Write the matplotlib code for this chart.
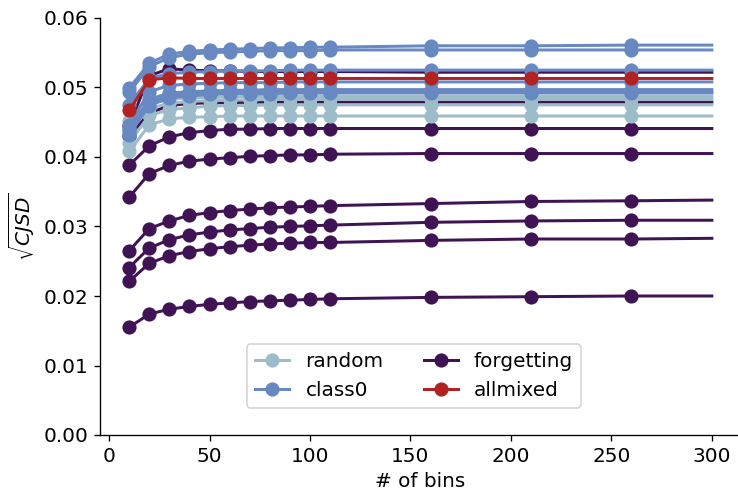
import matplotlib
matplotlib.use("Agg")
import matplotlib.pyplot as plt
from matplotlib.lines import Line2D

plt.rcParams["font.size"] = 12

bins = [10, 20, 30, 40, 50, 60, 70, 80, 90, 100, 110, 160, 210, 260, 300]

forgetting = [
    [0.0445, 0.0517, 0.0527, 0.0525, 0.0524, 0.0524, 0.0523, 0.0523, 0.0523, 0.0523, 0.0523, 0.0522, 0.0522, 0.0522, 0.0522],
    [0.0430, 0.0463, 0.0474, 0.0477, 0.0478, 0.0478, 0.0479, 0.0479, 0.0479, 0.0479, 0.0479, 0.0479, 0.0479, 0.0479, 0.0479],
    [0.0388, 0.0416, 0.0429, 0.0435, 0.0438, 0.0440, 0.0440, 0.0441, 0.0441, 0.0441, 0.0441, 0.0441, 0.0441, 0.0441, 0.0441],
    [0.0342, 0.0376, 0.0388, 0.0394, 0.0397, 0.0399, 0.0401, 0.0402, 0.0403, 0.0403, 0.0404, 0.0405, 0.0405, 0.0405, 0.0405],
    [0.0265, 0.0297, 0.0308, 0.0316, 0.0320, 0.0323, 0.0325, 0.0327, 0.0328, 0.0329, 0.0330, 0.0333, 0.0336, 0.0337, 0.0338],
    [0.0241, 0.0269, 0.0281, 0.0288, 0.0292, 0.0295, 0.0297, 0.0299, 0.0300, 0.0301, 0.0302, 0.0306, 0.0308, 0.0309, 0.0309],
    [0.0221, 0.0247, 0.0258, 0.0264, 0.0268, 0.0271, 0.0273, 0.0275, 0.0276, 0.0277, 0.0277, 0.0280, 0.0282, 0.0282, 0.0283],
    [0.0155, 0.0174, 0.0181, 0.0185, 0.0188, 0.0190, 0.0192, 0.0193, 0.0194, 0.0195, 0.0196, 0.0198, 0.0199, 0.0200, 0.0200],
]

random_ = [
    [0.0452, 0.0478, 0.0483, 0.0485, 0.0486, 0.0486, 0.0487, 0.0487, 0.0487, 0.0487, 0.0487, 0.0487, 0.0487, 0.0487, 0.0487],
    [0.0440, 0.0470, 0.0477, 0.0480, 0.0481, 0.0482, 0.0482, 0.0483, 0.0483, 0.0483, 0.0483, 0.0483, 0.0483, 0.0483, 0.0483],
    [0.0420, 0.0460, 0.0468, 0.0471, 0.0473, 0.0474, 0.0474, 0.0475, 0.0475, 0.0475, 0.0475, 0.0475, 0.0475, 0.0475, 0.0475],
    [0.0408, 0.0446, 0.0455, 0.0457, 0.0458, 0.0459, 0.0459, 0.0459, 0.0459, 0.0459, 0.0459, 0.0459, 0.0459, 0.0459, 0.0459],
]

class0 = [
    [0.0499, 0.0535, 0.0548, 0.0552, 0.0554, 0.0555, 0.0556, 0.0557, 0.0557, 0.0558, 0.0558, 0.0560, 0.0560, 0.0561, 0.0561],
    [0.0493, 0.0530, 0.0543, 0.0548, 0.0550, 0.0551, 0.0552, 0.0553, 0.0553, 0.0553, 0.0554, 0.0554, 0.0554, 0.0554, 0.0554],
    [0.0475, 0.0513, 0.0520, 0.0522, 0.0523, 0.0524, 0.0524, 0.0524, 0.0525, 0.0525, 0.0525, 0.0525, 0.0525, 0.0525, 0.0525],
    [0.0446, 0.0494, 0.0503, 0.0505, 0.0506, 0.0507, 0.0507, 0.0507, 0.0508, 0.0508, 0.0508, 0.0508, 0.0508, 0.0508, 0.0508],
    [0.0441, 0.0483, 0.0492, 0.0494, 0.0495, 0.0496, 0.0496, 0.0497, 0.0497, 0.0497, 0.0497, 0.0497, 0.0497, 0.0497, 0.0497],
    [0.0436, 0.0479, 0.0488, 0.0491, 0.0492, 0.0493, 0.0493, 0.0494, 0.0494, 0.0494, 0.0494, 0.0494, 0.0494, 0.0494, 0.0494],
    [0.0432, 0.0474, 0.0485, 0.0488, 0.0490, 0.0491, 0.0491, 0.0491, 0.0492, 0.0492, 0.0492, 0.0492, 0.0492, 0.0492, 0.0492],
]

allmixed = [
    [0.0467, 0.0511, 0.0514, 0.0513, 0.0513, 0.0513, 0.0513, 0.0513, 0.0513, 0.0513, 0.0513, 0.0513, 0.0513, 0.0513, 0.0513],
]

legend_labels = ["random", "class0", "forgetting", "allmixed"]
colors = {"random": "#9dbcca", "class0": "#6888c2", "forgetting": "#401454", "allmixed": "#b22222"}

groups = [("forgetting", forgetting), ("random", random_), ("class0", class0), ("allmixed", allmixed)]

fig = plt.figure(figsize=(738 / 120, 491 / 120), dpi=120)
ax = fig.add_axes([100 / 738, 56 / 491, 641 / 738, 417 / 491])

marks = list(range(len(bins) - 1))
for name, series in groups:
    for ys in series:
        ax.plot(bins, ys, color=colors[name], lw=1.8, marker="o", markersize=7.5,
                markevery=marks)

ax.set_ylim(0, 0.06)
ax.set_xlim(-4.5, 314.5)
ax.set_xticks([0, 50, 100, 150, 200, 250, 300])
ax.set_yticks([0.0, 0.01, 0.02, 0.03, 0.04, 0.05, 0.06])
ax.set_yticklabels(["0.00", "0.01", "0.02", "0.03", "0.04", "0.05", "0.06"])
ax.spines["top"].set_visible(False)
ax.spines["right"].set_visible(False)
ax.set_xlabel("# of bins")
ax.set_ylabel(r"$\sqrt{CJSD}$")

handles = [Line2D([], [], color=colors[n], lw=1.8, marker="o", markersize=7.5) for n in legend_labels]
ax.legend(handles, legend_labels, ncol=2, loc="lower center", bbox_to_anchor=(0.49, 0.04),
          fontsize=12, handlelength=1.7, columnspacing=2.0)

fig.savefig("out.png", dpi=120)
